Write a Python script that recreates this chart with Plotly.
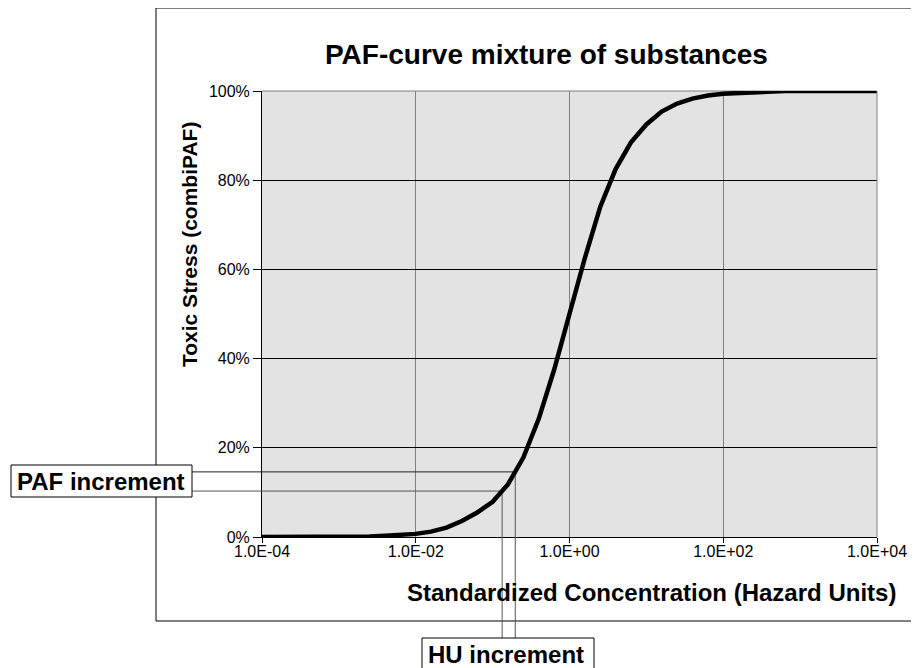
import plotly.graph_objects as go

# ---------------- data ----------------
hu_values = [1.0e-4, 1.58e-4, 2.51e-4, 3.98e-4, 6.31e-4,
             1.0e-3, 1.58e-3, 2.51e-3, 3.98e-3, 6.31e-3,
             1.0e-2, 1.58e-2, 2.51e-2, 3.98e-2, 6.31e-2,
             0.1, 0.158, 0.251, 0.398, 0.631,
             1.0, 1.58, 2.51, 3.98, 6.31,
             10, 15.8, 25.1, 39.8, 63.1,
             100, 158, 251, 398, 631,
             1000, 1580, 2510, 3980, 6310, 10000]
paf_percent = [0, 0, 0, 0, 0,
               0, 0, 0.1, 0.3, 0.4,
               0.7, 1.2, 2.1, 3.6, 5.5,
               7.9, 11.8, 17.8, 26.5, 37.5,
               50.0, 62.5, 74.0, 82.5, 88.5,
               92.5, 95.4, 97.2, 98.3, 99.0,
               99.4, 99.6, 99.7, 100, 100,
               100, 100, 100, 100, 100, 100]

x_tick_values = [1e-4, 1e-2, 1, 1e2, 1e4]
x_tick_labels = ["1.0E-04", "1.0E-02", "1.0E+00", "1.0E+02", "1.0E+04"]
y_tick_values = [0, 0.2, 0.4, 0.6, 0.8, 1.0]
y_tick_labels = ["0%", "20%", "40%", "60%", "80%", "100%"]

hu_increment = [0.133, 0.197]      # HU at the two points
paf_increment = [0.103, 0.146]     # PAF at the two points

title_text = "PAF-curve mixture of substances"
x_title = "Standardized Concentration (Hazard Units)"
y_title = "Toxic Stress (combiPAF)"
paf_label = "PAF increment"
hu_label = "HU increment"

# ---------------- layout geometry (screen pixels) ----------------
OFF = 8                      # page body margin
W, H = 919 - OFF, 668 - OFF
PL, PR, PT, PB = 262, 877, 91, 537   # plot area on screen
ML, MT = PL - OFF, PT - OFF
MR, MB = 919 - PR, 668 - PB
PW, PH = PR - PL, PB - PT
FONT = "Liberation Sans, Arial, sans-serif"


def px(x):
    return (x - PL) / PW


def py(y):
    return (PB - y) / PH


paf = [v / 100 for v in paf_percent]

fig = go.Figure()
fig.add_trace(go.Scatter(x=hu_values, y=paf, mode="lines",
                         line=dict(color="black", width=4.5),
                         cliponaxis=False, hoverinfo="skip", showlegend=False))

shapes = []
# outer chart border
shapes.append(dict(type="rect", xref="paper", yref="paper",
                   x0=px(156), x1=px(935), y0=py(621), y1=py(8),
                   line=dict(color="black", width=1), fillcolor="rgba(0,0,0,0)", layer="above"))
# plot area top/right border (gray)
shapes.append(dict(type="line", xref="paper", yref="paper", x0=0, x1=1, y0=1, y1=1,
                   line=dict(color="#808080", width=1), layer="between"))
shapes.append(dict(type="line", xref="paper", yref="paper", x0=1, x1=1, y0=0, y1=1,
                   line=dict(color="#808080", width=1), layer="above"))

line_colors = ["#555555", "#222222"]
for hu, p, c in zip(hu_increment, paf_increment, line_colors):
    # horizontal: from PAF box to plot edge, then to curve
    shapes.append(dict(type="line", xref="paper", yref="y", x0=px(192), x1=0, y0=p, y1=p,
                       line=dict(color=c, width=1), layer="above"))
    shapes.append(dict(type="line", xref="x", yref="y", x0=hu_values[0], x1=hu, y0=p, y1=p,
                       line=dict(color=c, width=1), layer="between"))
    # vertical: from curve to axis, then to HU box
    shapes.append(dict(type="line", xref="x", yref="y", x0=hu, x1=hu, y0=0, y1=p,
                       line=dict(color="#555555", width=1), layer="between"))
    shapes.append(dict(type="line", xref="x", yref="paper", x0=hu, x1=hu, y0=0, y1=py(638),
                       line=dict(color="#555555", width=1), layer="above"))

# label boxes
shapes.append(dict(type="rect", xref="paper", yref="paper",
                   x0=px(11), x1=px(192), y0=py(497), y1=py(465),
                   line=dict(color="black", width=1), fillcolor="white", layer="above"))
shapes.append(dict(type="rect", xref="paper", yref="paper",
                   x0=px(422), x1=px(594), y0=py(675), y1=py(638),
                   line=dict(color="black", width=1), fillcolor="white", layer="above"))

annotations = [
    dict(text=title_text, xref="paper", yref="paper", x=px(546), y=py(54),
         showarrow=False, xanchor="center", yanchor="middle",
         font=dict(family=FONT, size=28, color="black", weight="bold")),
    dict(text=x_title, xref="paper", yref="paper", x=px(651), y=py(592),
         showarrow=False, xanchor="center", yanchor="middle",
         font=dict(family=FONT, size=24, color="black", weight="bold")),
    dict(text=y_title, xref="paper", yref="paper", x=px(189), y=py(245),
         showarrow=False, xanchor="center", yanchor="middle", textangle=-90,
         font=dict(family=FONT, size=21, color="black", weight="bold")),
    dict(text=paf_label, xref="paper", yref="paper", x=px(101), y=py(481),
         showarrow=False, xanchor="center", yanchor="middle",
         font=dict(family=FONT, size=24, color="black", weight="bold")),
    dict(text=hu_label, xref="paper", yref="paper", x=px(506), y=py(654),
         showarrow=False, xanchor="center", yanchor="middle",
         font=dict(family=FONT, size=24, color="black", weight="bold")),
]

fig.update_layout(
    width=W, height=H, autosize=False,
    margin=dict(l=ML, r=MR, t=MT, b=MB, pad=0),
    paper_bgcolor="white", plot_bgcolor="#e3e3e3",
    showlegend=False,
    shapes=shapes, annotations=annotations,
    xaxis=dict(type="log", range=[-4, 4], tickvals=x_tick_values, ticktext=x_tick_labels,
               showgrid=True, gridcolor="#808080", gridwidth=1,
               showline=True, linecolor="black", linewidth=1,
               ticks="outside", ticklen=5, tickcolor="black", ticklabelstandoff=-5,
               tickfont=dict(family=FONT, size=16, color="black"),
               zeroline=False, fixedrange=True),
    yaxis=dict(range=[0, 1], tickvals=y_tick_values, ticktext=y_tick_labels,
               showgrid=True, gridcolor="black", gridwidth=1,
               showline=True, linecolor="black", linewidth=1,
               ticks="outside", ticklen=8, tickcolor="black",
               tickfont=dict(family=FONT, size=16, color="black"),
               zeroline=False, fixedrange=True),
)

fig.write_html("out.html")
